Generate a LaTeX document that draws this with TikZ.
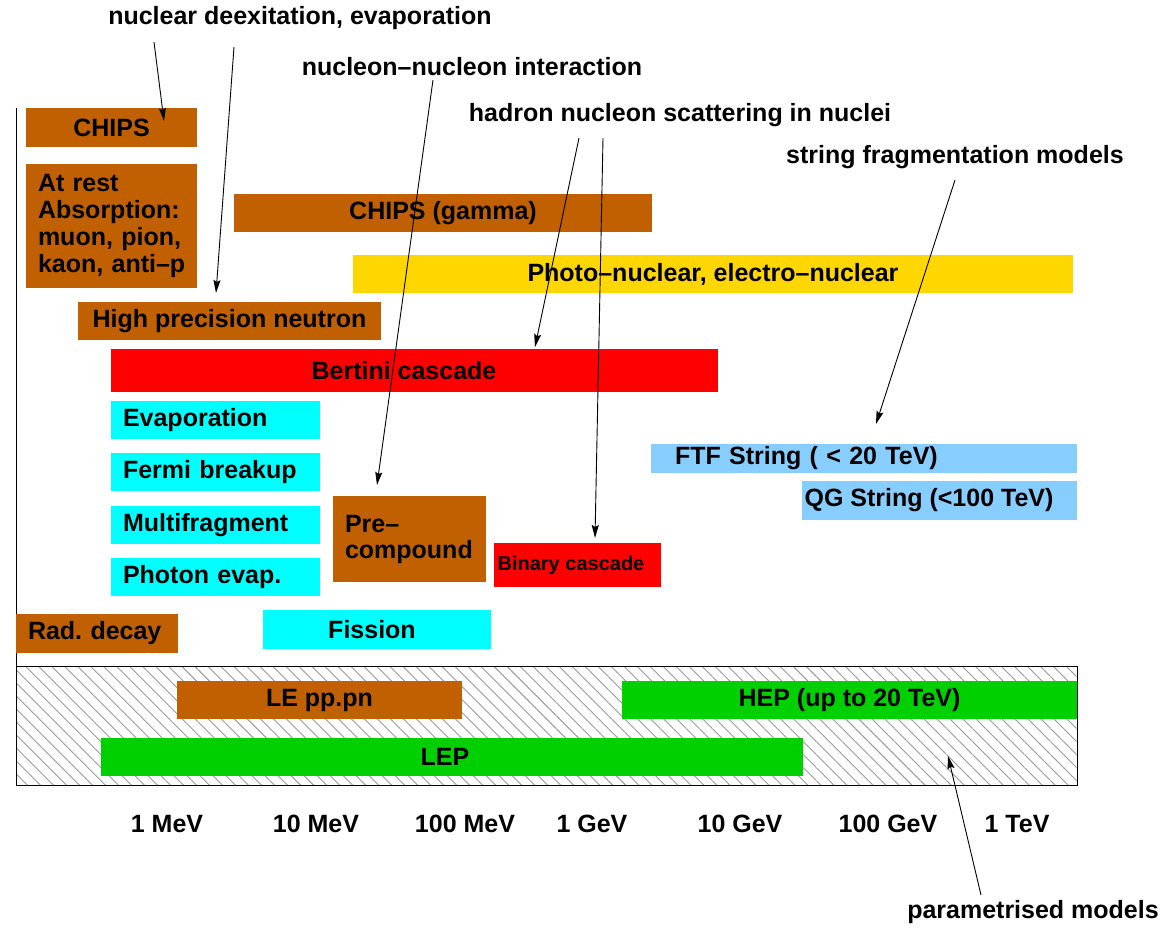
\documentclass[tikz,border=0pt]{standalone}
\usepackage{fontspec}
\setmainfont{Liberation Sans}
\usepackage{tikz}
\usetikzlibrary{arrows.meta, patterns.meta, positioning}
\tikzset{>={Stealth[length=13pt,width=7pt,inset=2pt]}}
\definecolor{figbrown}{RGB}{192,96,0}
\definecolor{figred}{RGB}{255,0,0}
\definecolor{figgold}{RGB}{255,215,0}
\definecolor{figcyan}{RGB}{0,255,255}
\definecolor{figltblue}{RGB}{135,206,255}
\definecolor{figgreen}{RGB}{0,208,0}
\tikzset{
	bar/.style={draw=none, inner sep=0pt, font=\bfseries\fontsize{25}{28}\selectfont\frenchspacing},
	lbar/.style={bar, align=left, inner xsep=12pt},
	tag/.style={inner sep=0pt, font=\bfseries\fontsize{25}{28}\selectfont},
	ptr/.style={->, line width=0.9pt}
}

\begin{document}
\begin{tikzpicture}[x=1pt, y=-1pt]
			\useasboundingbox (0,0) rectangle (1165,927);
			\draw [line width=0.9pt, pattern={Lines[angle=-45, distance=9.2pt, line width=0.9pt]}, pattern color=gray!80] (16,666) rectangle (1077,785);
			\draw [line width=0.9pt] (16,108) -- (16,666);
			\node[bar, fill=figbrown, minimum width=171pt, minimum height=39pt] (chips) at (111.5,127.5) {CHIPS};
			\node[lbar, fill=figbrown, inner xsep=6pt, text width=159pt, minimum height=124pt] (atrest) at (111.5,226) {\hspace*{6pt}At rest\\[-1pt]\hspace*{6pt}Absorption:\\[-1pt]\hspace*{6pt}muon, pion,\\[-1pt]\hspace*{6pt}\mbox{kaon, anti--p}};
			\node[bar, fill=figbrown, minimum width=418pt, minimum height=38pt] (chipsg) at (443,213) {CHIPS (gamma)};
			\node[bar, fill=figgold, minimum width=720pt, minimum height=38pt] (photo) at (713,274) {Photo--nuclear, electro--nuclear};
			\node[bar, fill=figbrown, minimum width=303pt, minimum height=38pt] (hpn) at (229.5,321) {High precision neutron};
			\node[bar, fill=figred, minimum width=607pt, minimum height=43pt] (bertini) at (414.5,370.5) {\hspace*{-21pt}Bertini cascade};
			\node[lbar, fill=figcyan, text width=185pt, minimum height=38pt] (evap) at (215.5,420) {Evaporation};
			\node[lbar, fill=figcyan, text width=185pt, minimum height=38pt] (fermi) at (215.5,472) {Fermi breakup};
			\node[lbar, fill=figcyan, text width=185pt, minimum height=38pt] (multi) at (215.5,525) {Multifragment};
			\node[lbar, fill=figcyan, text width=185pt, minimum height=38pt] (photon) at (215.5,577) {Photon evap.};
			\node[lbar, fill=figbrown, text width=129pt, minimum height=86pt] (precomp) at (409.5,539) {Pre--\\[-2pt]compound};
			\node[bar, fill=figred, minimum width=167pt, minimum height=44pt, font=\bfseries\fontsize{20}{24}\selectfont] (binary) at (577.5,565) {\hspace*{-13pt}Binary cascade};
			\node[lbar, fill=figbrown, text width=138pt, minimum height=39pt] (raddecay) at (97,633.5) {Rad. decay};
			\node[bar, fill=figcyan, minimum width=228pt, minimum height=39pt] (fission) at (377,629.5) {\hspace*{-10pt}Fission};
			\node[lbar, fill=figltblue, inner xsep=24pt, text width=378pt, minimum height=29pt] (ftf) at (864,458.5) {FTF String ( < 20 TeV)};
			\node[bar, fill=figltblue, minimum width=275pt, minimum height=39pt] (qg) at (939.5,500.5) {\hspace*{-21pt}QG String (<100 TeV)};
			\node[bar, fill=figbrown, minimum width=285pt, minimum height=38pt] (lepp) at (319.5,700) {LE pp.pn};
			\node[bar, fill=figgreen, minimum width=455pt, minimum height=38pt] (hep) at (849.5,700) {HEP (up to 20 TeV)};
			\node[bar, fill=figgreen, minimum width=702pt, minimum height=38pt] (lep) at (452,757) {\hspace*{-14pt}LEP};
			\node[tag] (mev1) at (167,824) {1 MeV};
			\node[tag] (mev10) at (316,824) {10 MeV};
			\node[tag] (mev100) at (465,824) {100 MeV};
			\node[tag] (gev1) at (592,824) {1 GeV};
			\node[tag] (gev10) at (740,824) {10 GeV};
			\node[tag] (gev100) at (888,824) {100 GeV};
			\node[tag] (tev1) at (1017,824) {1 TeV};
			\node[tag] (deexc) at (300,18) {nuclear deexitation, evaporation};
			\node[tag] (nn) at (472,67) {nucleon--nucleon interaction};
			\node[tag] (hadnuc) at (680,115) {hadron nucleon scattering in nuclei};
			\node[tag] (strfrag) at (955,157) {string fragmentation models};
			\node[tag] (param) at (1033,912) {parametrised models};
			\coordinate (deexcA) at (154,42);
			\coordinate (deexcB) at (234,47);
			\coordinate (nnA) at (433,80);
			\coordinate (hadA) at (579,138);
			\coordinate (hadB) at (603,138);
			\coordinate (strA) at (955,180);
			\coordinate (parA) at (981,895);
			\coordinate (tipchips) at (164,121);
			\coordinate (tiphpn) at (216,293);
			\coordinate (tippre) at (377,485);
			\coordinate (tipbert) at (535,347);
			\coordinate (tipbin) at (595,538);
			\coordinate (tipftf) at (876,424);
			\coordinate (tippar) at (948,756);
			\draw [ptr] (deexcA) -- (tipchips);
			\draw [ptr] (deexcB) -- (tiphpn);
			\draw [ptr] (nnA) -- (tippre);
			\draw [ptr] (hadA) -- (tipbert);
			\draw [ptr] (hadB) -- (tipbin);
			\draw [ptr] (strA) -- (tipftf);
			\draw [ptr] (parA) -- (tippar);
		\end{tikzpicture}
\end{document}
